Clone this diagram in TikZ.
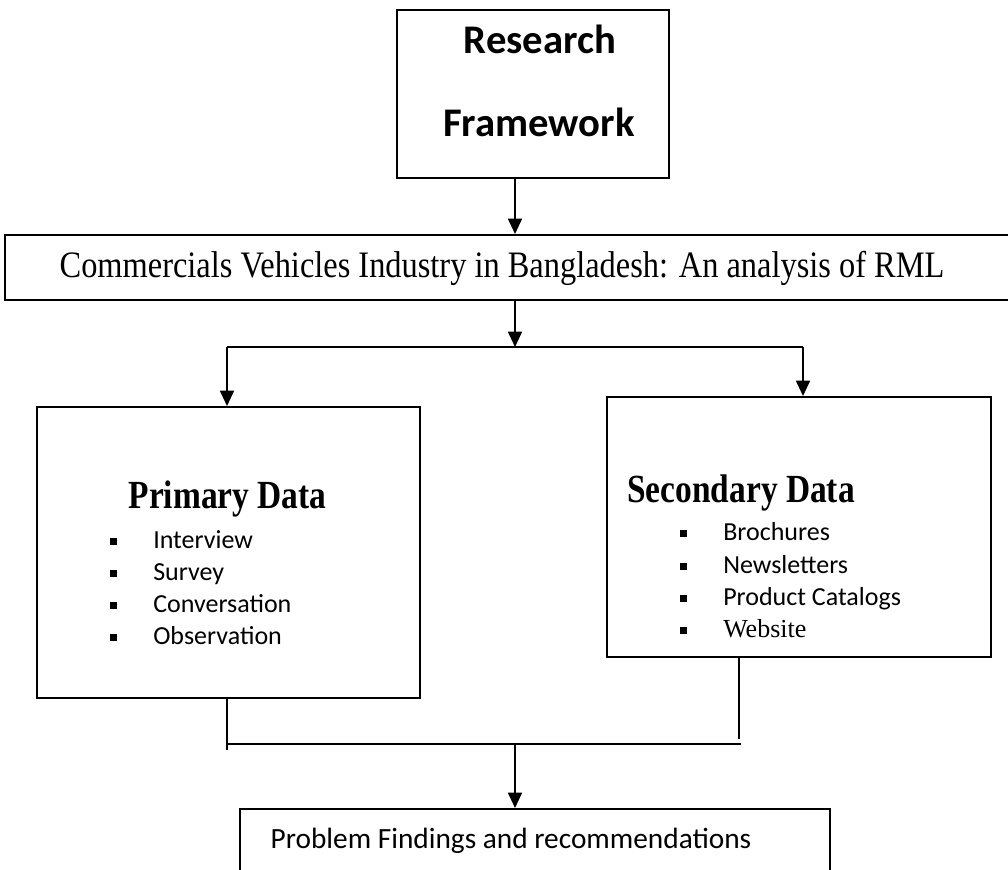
\documentclass[tikz,border=0pt]{standalone}
\usepackage{fontspec}
\setmainfont{Liberation Serif}
\newfontfamily\calib{Carlito}
\usetikzlibrary{arrows.meta}
\tikzset{
  box/.style={draw, line width=1.5pt, inner sep=0pt},
  conn/.style={line width=1.3pt},
  arr/.style={conn, -{Triangle[width=10.5pt,length=11.5pt]}},
  txt/.style={inner sep=0pt, anchor=base},
  itemtxt/.style={inner sep=0pt, anchor=base west, font=\calib\fontsize{19.5pt}{22pt}\selectfont},
}
\newcommand\bulsq{\makebox[32.25pt][l]{\rule[2pt]{5.25pt}{5.25pt}}}
\begin{document}
\begin{tikzpicture}[x=0.75pt,y=-0.75pt]
\fill[white] (0,0) rectangle (1008,869);
\useasboundingbox (0,0) rectangle (1008,869);
% boxes
\node[box, minimum width=204pt, minimum height=126pt] (top) at (533,94) {};
\node[box, minimum width=757.5pt, minimum height=48.75pt] (comm) at (510,267.5) {};
\node[box, minimum width=287.25pt, minimum height=218.25pt] (prim) at (228.5,552.5) {};
\node[box, minimum width=288pt, minimum height=195pt] (sec) at (799,527) {};
\node[box, minimum width=442.5pt, minimum height=75pt] (bot) at (535,859) {};
% texts
\node[txt, font=\calib\bfseries\fontsize{30.5pt}{30pt}\selectfont] (t1) at (540,53) {Research};
\node[txt, font=\calib\bfseries\fontsize{30.5pt}{30pt}\selectfont] (t2) at (539,136) {Framework};
\node[txt, font=\fontsize{28pt}{28pt}\selectfont] (ct) at (502,277) {\scalebox{0.868}[1]{Commercials Vehicles Industry in Bangladesh: An analysis of RML}};
\node[txt, font=\bfseries\fontsize{28.5pt}{28pt}\selectfont] (ph) at (227.5,508) {\scalebox{0.88}[1.05]{Primary Data}};
\node[txt, anchor=base west, font=\bfseries\fontsize{28.5pt}{28pt}\selectfont] (sh) at (627,502) {\scalebox{0.88}[1.05]{Secondary Data}};
\node[itemtxt] (p1) at (110,548) {\bulsq Interview};
\node[itemtxt] (p2) at (110,580) {\bulsq Survey};
\node[itemtxt] (p3) at (110,612) {\bulsq Conversation};
\node[itemtxt] (p4) at (110,644) {\bulsq Observation};
\node[itemtxt] (s1) at (680,540) {\bulsq Brochures};
\node[itemtxt] (s2) at (680,573) {\bulsq Newsletters};
\node[itemtxt] (s3) at (680,605) {\bulsq Product Catalogs};
\node[itemtxt] (s4) at (680,637) {\bulsq\rmfamily Website};
\node[txt, font=\calib\fontsize{22pt}{22pt}\selectfont] (bt) at (511,848) {Problem Findings and recommendations};
% connector coordinates
\coordinate (xm) at (515,0);
\coordinate (jm) at (515,347);
\coordinate (jl) at (227,347);
\coordinate (jr) at (803,347);
\coordinate (xl) at (227,0);
\coordinate (xr) at (739,0);
\coordinate (bl) at (227,744);
\coordinate (blend) at (227,750);
\coordinate (br) at (741,744);
\coordinate (brend) at (739,739);
\coordinate (bm) at (515,744);
% connectors
\draw[arr] (top.south -| xm) -- (comm.north -| xm);
\draw[arr] (comm.south -| xm) -- (jm);
\draw[conn] (jl) -- (jr);
\draw[arr] (jl) -- (prim.north -| jl);
\draw[arr] (jr) -- (sec.north -| jr);
\draw[conn] (prim.south -| xl) -- (blend);
\draw[conn] (bl) -- (br);
\draw[conn] (sec.south -| xr) -- (brend);
\draw[arr] (bm) -- (bot.north -| bm);
\end{tikzpicture}
\end{document}
